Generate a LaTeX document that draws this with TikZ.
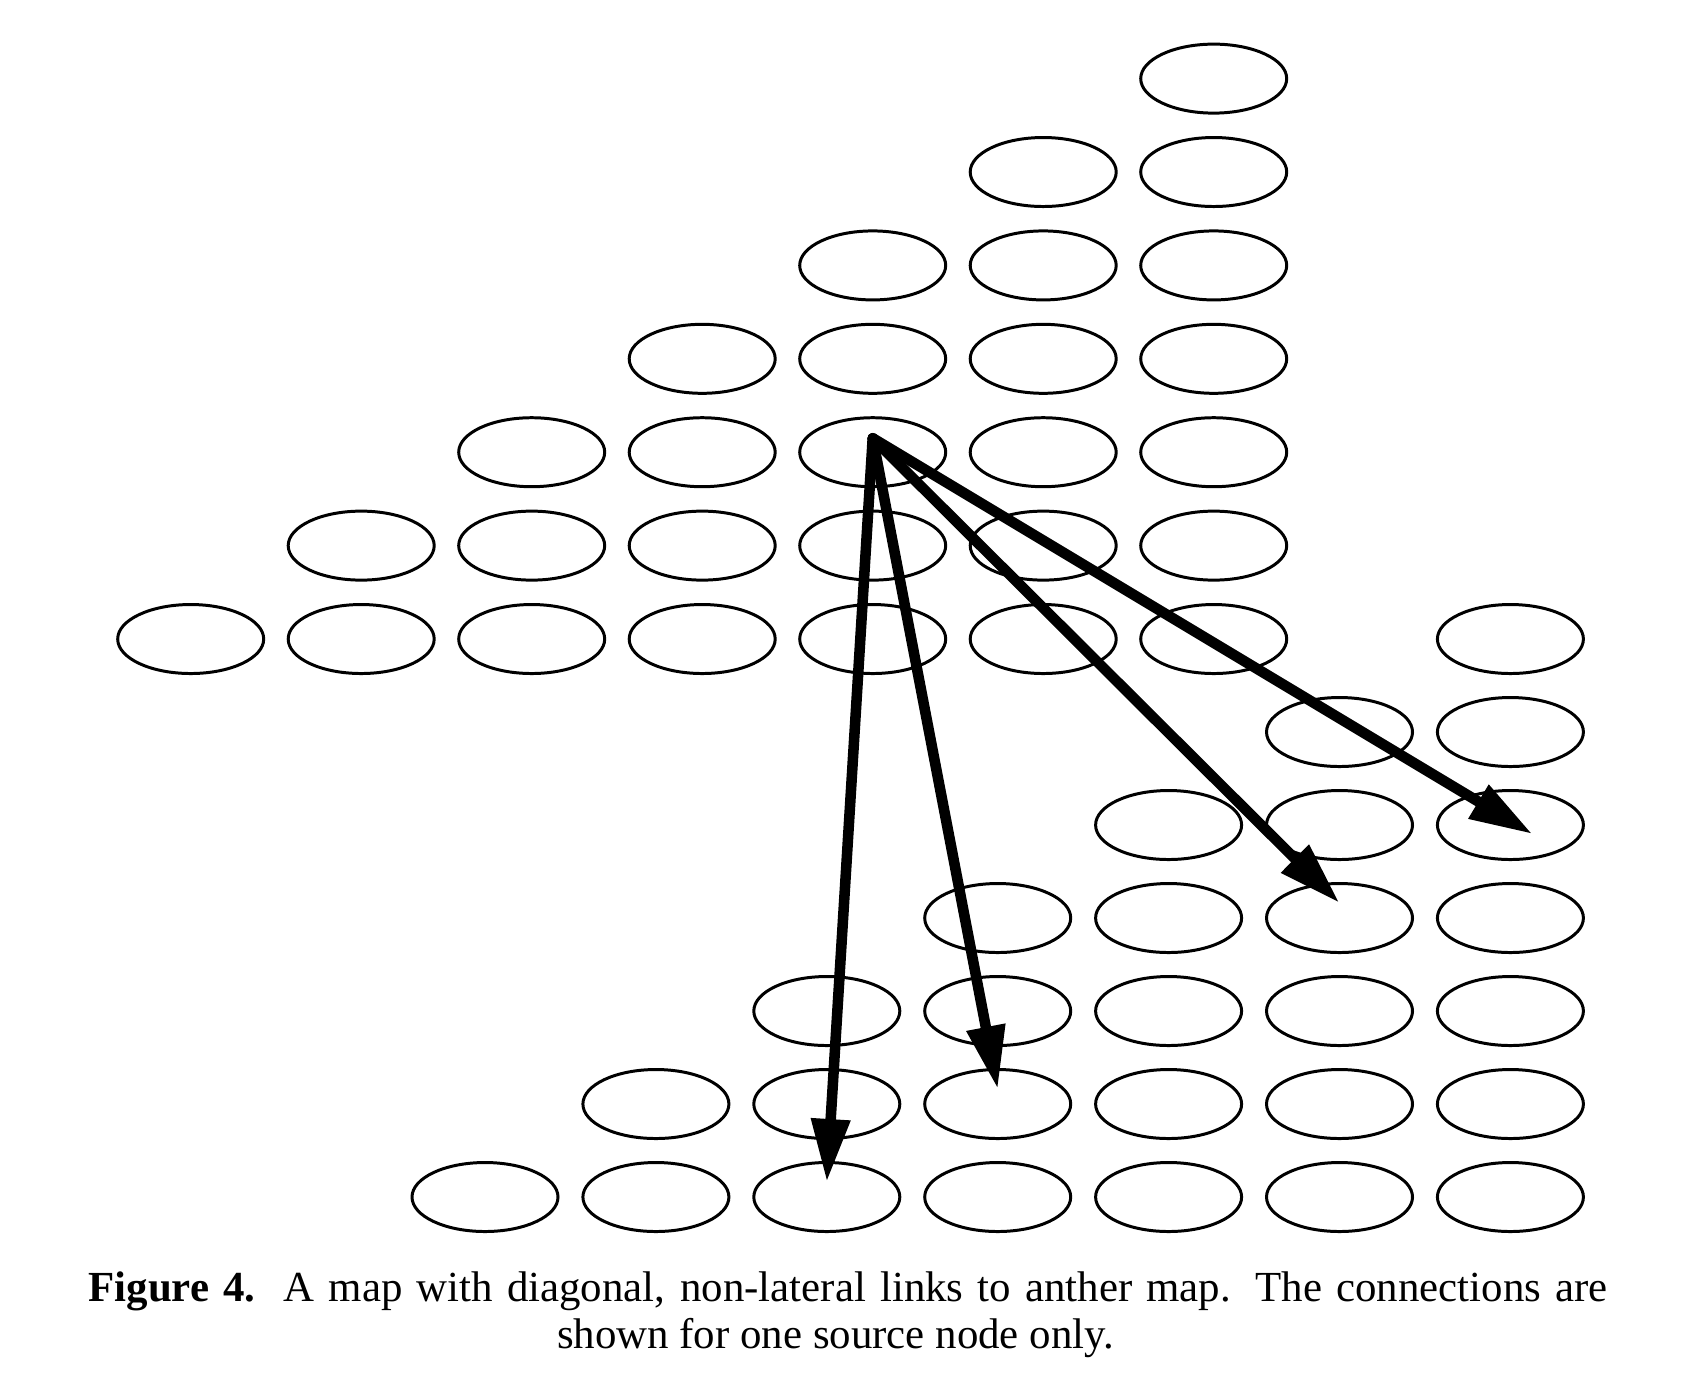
\documentclass[tikz,border=0pt]{standalone}
\usepackage{fontspec}
\setmainfont{Liberation Serif}
\usetikzlibrary{arrows.meta,shapes.geometric}

\tikzset{
  cell/.style={ellipse, draw, line width=0.85pt, minimum width=1.46cm,
    minimum height=0.69cm, inner sep=0pt},
  link/.style={line width=3pt, line cap=round,
    -{Triangle[length=6.3mm,width=3.7mm]}},
}

\begin{document}
\begin{tikzpicture}
  \useasboundingbox (0,0) rectangle (16.89,-13.93);
  % source map (upper left)
  \foreach \r in {1,...,7} {
    \pgfmathtruncatemacro{\cfirst}{8-\r}
    \foreach \c in {\cfirst,...,7}
      \node[cell] (a-\r-\c) at ({1.907+1.705*(\c-1)},{-0.786-0.934*(\r-1)}) {};
  }
  % target map (lower right)
  \foreach \r in {1,...,7} {
    \pgfmathtruncatemacro{\cfirst}{8-\r}
    \foreach \c in {\cfirst,...,7}
      \node[cell] (b-\r-\c) at ({4.85+1.709*(\c-1)},{-6.39-0.93*(\r-1)}) {};
  }
  % links from one source node
  \coordinate (from) at ([yshift=1.4mm]a-5-5.center);
  \draw[link] (from) -- ([yshift=1.5mm]b-7-3.center);
  \draw[link] (from) -- ([yshift=1.5mm]b-6-4.center);
  \draw[link] (from) -- ([yshift=1.5mm]b-4-6.center);
  \draw[link] (from) -- ([xshift=2.2mm,yshift=-0.9mm]b-3-7.center);
  % caption
  \node[align=center, font=\fontsize{12.2}{13.3}\selectfont] (caption) at (8.48,-13.15)
    {\makebox[15.19cm][s]{\textbf{Figure 4.}\ \ A map with diagonal, non-lateral links to anther map. The connections are}\\
     shown for one source node only.\hspace*{0.25cm}};
\end{tikzpicture}
\end{document}
